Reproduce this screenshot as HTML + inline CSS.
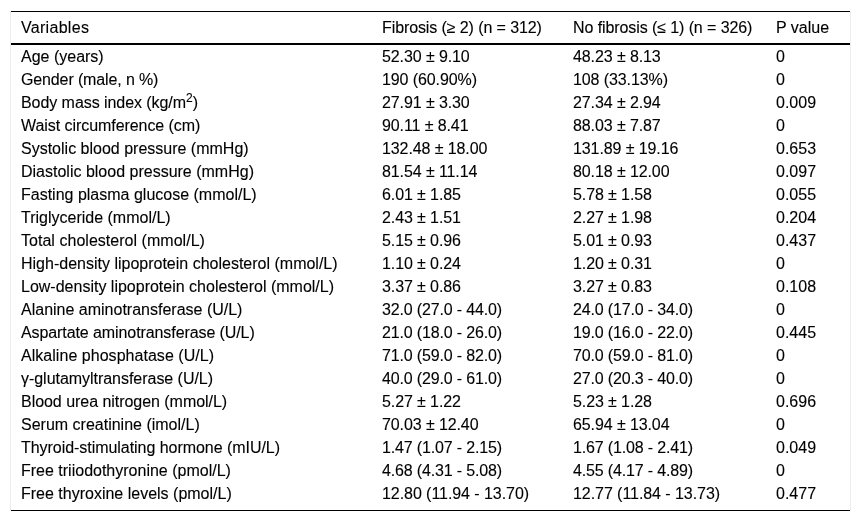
<!DOCTYPE html><html><head><meta charset="utf-8"><style>
html,body{margin:0;padding:0;background:#fff;}
body{width:861px;height:522px;overflow:hidden;position:relative;font-family:"Liberation Sans",sans-serif;color:#000;font-size:16px;-webkit-text-stroke:0.12px #000;}
.w{position:absolute;left:0;top:0;width:861px;height:522px;will-change:transform;}
.r{position:absolute;left:0;width:861px;height:23px;line-height:23px;white-space:nowrap;}
.r span{position:absolute;top:0;}
.c0{left:21px}.c1{left:382px}.c2{left:573px}.c3{left:776px}
.ln{position:absolute;left:11px;width:839px;background:#000;}
.vb{position:absolute;top:11px;width:1px;height:500px;background:#ececec;}
sup{font-size:12px;line-height:0;vertical-align:baseline;position:relative;top:-6.5px;}
</style></head><body><div class="w">
<div class="vb" style="left:10px"></div><div class="vb" style="left:850px"></div>
<div class="ln" style="top:11px;height:1px"></div>
<div class="ln" style="top:43px;height:2px"></div>
<div class="ln" style="top:510px;height:1px"></div>
<div class="r" style="top:16px"><span class="c0" style="letter-spacing:0.3px">Variables</span><span class="c1" style="letter-spacing:-0.1px">Fibrosis (≥ 2) (n = 312)</span><span class="c2" style="letter-spacing:-0.09px">No fibrosis (≤ 1) (n = 326)</span><span class="c3">P value</span></div>
<div class="r" style="top:45px"><span class="c0">Age (years)</span><span class="c1" style="letter-spacing:-0.1px">52.30 ± 9.10</span><span class="c2" style="letter-spacing:-0.1px">48.23 ± 8.13</span><span class="c3">0</span></div>
<div class="r" style="top:68px"><span class="c0" style="letter-spacing:-0.13px">Gender (male, n %)</span><span class="c1" style="letter-spacing:-0.1px">190 (60.90%)</span><span class="c2" style="letter-spacing:-0.1px">108 (33.13%)</span><span class="c3">0</span></div>
<div class="r" style="top:91px"><span class="c0" style="letter-spacing:-0.06px">Body mass index (kg/m<sup>2</sup>)</span><span class="c1" style="letter-spacing:-0.1px">27.91 ± 3.30</span><span class="c2" style="letter-spacing:-0.1px">27.34 ± 2.94</span><span class="c3">0.009</span></div>
<div class="r" style="top:114px"><span class="c0" style="letter-spacing:-0.06px">Waist circumference (cm)</span><span class="c1" style="letter-spacing:-0.1px">90.11 ± 8.41</span><span class="c2" style="letter-spacing:-0.1px">88.03 ± 7.87</span><span class="c3">0</span></div>
<div class="r" style="top:137px"><span class="c0">Systolic blood pressure (mmHg)</span><span class="c1" style="letter-spacing:-0.1px">132.48 ± 18.00</span><span class="c2" style="letter-spacing:-0.1px">131.89 ± 19.16</span><span class="c3">0.653</span></div>
<div class="r" style="top:160px"><span class="c0">Diastolic blood pressure (mmHg)</span><span class="c1" style="letter-spacing:-0.1px">81.54 ± 11.14</span><span class="c2" style="letter-spacing:-0.1px">80.18 ± 12.00</span><span class="c3">0.097</span></div>
<div class="r" style="top:183px"><span class="c0">Fasting plasma glucose (mmol/L)</span><span class="c1" style="letter-spacing:-0.1px">6.01 ± 1.85</span><span class="c2" style="letter-spacing:-0.1px">5.78 ± 1.58</span><span class="c3">0.055</span></div>
<div class="r" style="top:206px"><span class="c0">Triglyceride (mmol/L)</span><span class="c1" style="letter-spacing:-0.1px">2.43 ± 1.51</span><span class="c2" style="letter-spacing:-0.1px">2.27 ± 1.98</span><span class="c3">0.204</span></div>
<div class="r" style="top:229px"><span class="c0" style="letter-spacing:0.03px">Total cholesterol (mmol/L)</span><span class="c1" style="letter-spacing:-0.1px">5.15 ± 0.96</span><span class="c2" style="letter-spacing:-0.1px">5.01 ± 0.93</span><span class="c3">0.437</span></div>
<div class="r" style="top:252px"><span class="c0">High-density lipoprotein cholesterol (mmol/L)</span><span class="c1" style="letter-spacing:-0.1px">1.10 ± 0.24</span><span class="c2" style="letter-spacing:-0.1px">1.20 ± 0.31</span><span class="c3">0</span></div>
<div class="r" style="top:275px"><span class="c0">Low-density lipoprotein cholesterol (mmol/L)</span><span class="c1" style="letter-spacing:-0.1px">3.37 ± 0.86</span><span class="c2" style="letter-spacing:-0.1px">3.27 ± 0.83</span><span class="c3">0.108</span></div>
<div class="r" style="top:298px"><span class="c0">Alanine aminotransferase (U/L)</span><span class="c1" style="letter-spacing:-0.15px">32.0 (27.0 - 44.0)</span><span class="c2" style="letter-spacing:-0.15px">24.0 (17.0 - 34.0)</span><span class="c3">0</span></div>
<div class="r" style="top:321px"><span class="c0" style="letter-spacing:-0.09px">Aspartate aminotransferase (U/L)</span><span class="c1" style="letter-spacing:-0.15px">21.0 (18.0 - 26.0)</span><span class="c2" style="letter-spacing:-0.15px">19.0 (16.0 - 22.0)</span><span class="c3">0.445</span></div>
<div class="r" style="top:344px"><span class="c0" style="letter-spacing:0.035px">Alkaline phosphatase (U/L)</span><span class="c1" style="letter-spacing:-0.15px">71.0 (59.0 - 82.0)</span><span class="c2" style="letter-spacing:-0.15px">70.0 (59.0 - 81.0)</span><span class="c3">0</span></div>
<div class="r" style="top:367px"><span class="c0" style="letter-spacing:-0.035px">γ-glutamyltransferase (U/L)</span><span class="c1" style="letter-spacing:-0.15px">40.0 (29.0 - 61.0)</span><span class="c2" style="letter-spacing:-0.15px">27.0 (20.3 - 40.0)</span><span class="c3">0</span></div>
<div class="r" style="top:390px"><span class="c0" style="letter-spacing:-0.04px">Blood urea nitrogen (mmol/L)</span><span class="c1" style="letter-spacing:-0.1px">5.27 ± 1.22</span><span class="c2" style="letter-spacing:-0.1px">5.23 ± 1.28</span><span class="c3">0.696</span></div>
<div class="r" style="top:413px"><span class="c0">Serum creatinine (imol/L)</span><span class="c1" style="letter-spacing:-0.1px">70.03 ± 12.40</span><span class="c2" style="letter-spacing:-0.1px">65.94 ± 13.04</span><span class="c3">0</span></div>
<div class="r" style="top:436px"><span class="c0" style="letter-spacing:-0.045px">Thyroid-stimulating hormone (mIU/L)</span><span class="c1" style="letter-spacing:-0.15px">1.47 (1.07 - 2.15)</span><span class="c2" style="letter-spacing:-0.15px">1.67 (1.08 - 2.41)</span><span class="c3">0.049</span></div>
<div class="r" style="top:459px"><span class="c0">Free triiodothyronine (pmol/L)</span><span class="c1" style="letter-spacing:-0.15px">4.68 (4.31 - 5.08)</span><span class="c2" style="letter-spacing:-0.15px">4.55 (4.17 - 4.89)</span><span class="c3">0</span></div>
<div class="r" style="top:482px"><span class="c0">Free thyroxine levels (pmol/L)</span><span class="c1" style="letter-spacing:-0.06px">12.80 (11.94 - 13.70)</span><span class="c2" style="letter-spacing:-0.06px">12.77 (11.84 - 13.73)</span><span class="c3">0.477</span></div>
</div></body></html>
